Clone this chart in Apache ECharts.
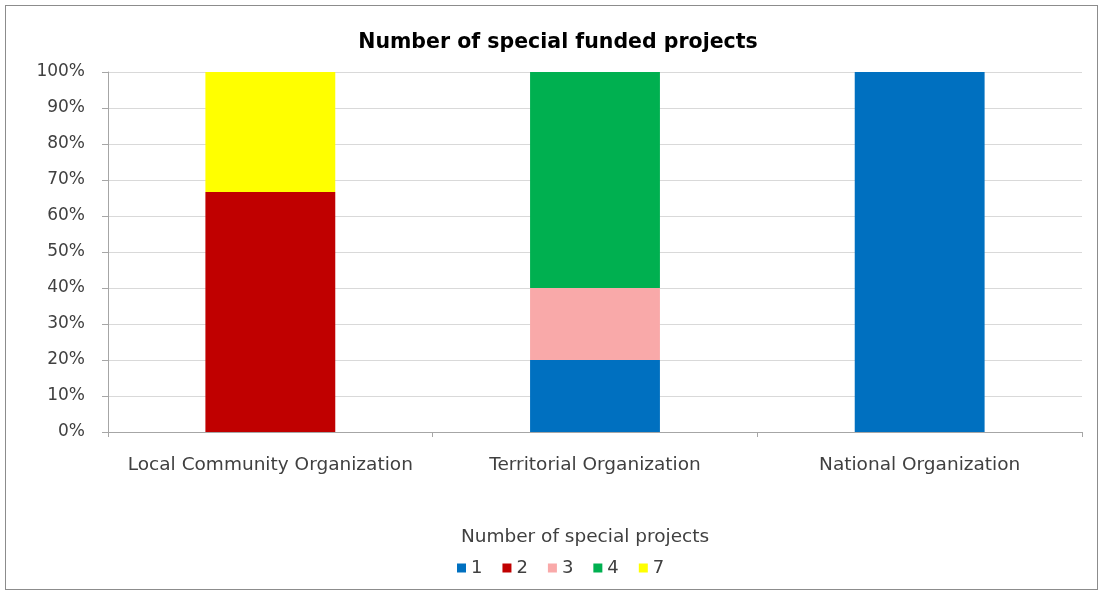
<!DOCTYPE html>
<html><head><meta charset="utf-8">
<script src="https://cdn.jsdelivr.net/npm/echarts@6/dist/echarts.min.js"></script>
<style>html,body{margin:0;padding:0;background:#fff}#c{width:1104px;height:592px}
#frame{position:absolute;left:5px;top:5px;width:1093px;height:585px;border:1px solid #8c8c8c;box-sizing:border-box;pointer-events:none}</style>
</head><body><div id="c"></div><div id="frame"></div>
<script>
const categories = ["Local Community Organization", "Territorial Organization", "National Organization"];
const seriesNames = ["1", "2", "3", "4", "7"];
const s1 = [0, 20, 100];
const s2 = [66.7, 0, 0];
const s3 = [0, 20, 0];
const s4 = [0, 60, 0];
const s7 = [33.3, 0, 0];
const yTicks = ["0%","10%","20%","30%","40%","50%","60%","70%","80%","90%","100%"];
const colors = ["#0070C0", "#C00000", "#F9A9A9", "#00B050", "#FFFF00"];
const values = [s1, s2, s3, s4, s7];
const FONT = "DejaVu Sans";
const chart = echarts.init(document.getElementById('c'));
chart.setOption({
  animation: false,
  textStyle: {fontFamily: FONT},
  title: [
    {text: "Number of special funded projects", left: 553, top: 27, textAlign: 'center',
     textStyle: {fontFamily: FONT, fontSize: 20.5, fontWeight: 'bold', color: '#000'}},
    {text: "Number of special projects", left: 580, top: 523, textAlign: 'center',
     textStyle: {fontFamily: FONT, fontSize: 18.5, fontWeight: 'normal', color: '#404040'}}
  ],
  legend: {
    data: seriesNames, left: 452, top: 554, icon: 'rect', itemWidth: 9, itemHeight: 9, itemGap: 20,
    textStyle: {fontFamily: FONT, fontSize: 18, color: '#404040'}
  },
  grid: {left: 108, right: 22, top: 72, bottom: 160},
  xAxis: {
    type: 'category', data: categories,
    axisLine: {lineStyle: {color: '#a6a6a6'}},
    axisTick: {show: true, length: 5, interval: 0, lineStyle: {color: '#a6a6a6'}},
    axisLabel: {fontFamily: FONT, fontSize: 18.5, color: '#404040', margin: 24, interval: 0}
  },
  yAxis: {
    type: 'value', min: 0, max: 100, interval: 10,
    axisLine: {show: true, lineStyle: {color: '#a6a6a6'}},
    axisTick: {show: true, length: 6, lineStyle: {color: '#a6a6a6'}},
    splitLine: {lineStyle: {color: '#d9d9d9'}},
    axisLabel: {fontFamily: FONT, fontSize: 17, color: '#404040', margin: 23,
      formatter: v => yTicks[Math.round(v / 10)]}
  },
  series: seriesNames.map((n, i) => ({
    name: n, type: 'bar', stack: 'total', barWidth: '40%',
    itemStyle: {color: colors[i]}, data: values[i]
  }))
});
</script></body></html>
